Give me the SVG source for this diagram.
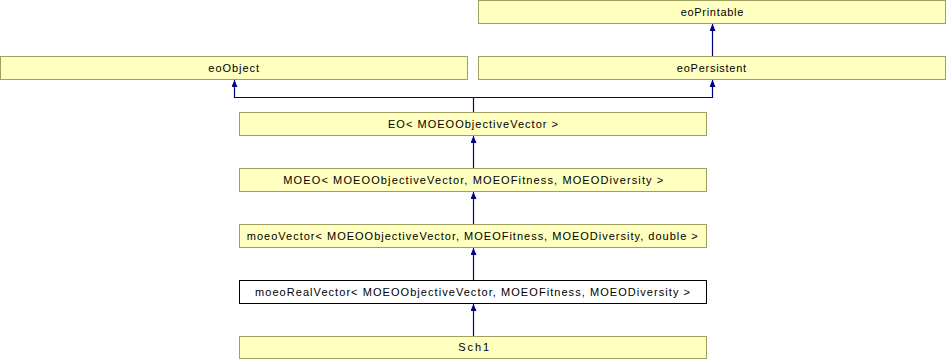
<svg xmlns="http://www.w3.org/2000/svg" width="946" height="360" viewBox="0 0 946 360">
<style>
.box{fill:#ffffc0;stroke:#a0a060;stroke-width:1}
.wbox{fill:#ffffff;stroke:#000000;stroke-width:1}
.lbl{font-family:"Liberation Sans",Arial,sans-serif;font-size:11px;fill:#000000;text-anchor:middle}
.edge{fill:none;stroke:#000080;stroke-width:1.2}
</style>
<defs>
<marker id="ah" markerUnits="userSpaceOnUse" viewBox="0 0 7 6" refX="7" refY="3" markerWidth="7" markerHeight="6" orient="auto">
<path d="M0,0 L7,3 L0,6 z" fill="#000080"/>
</marker>
</defs>
<rect width="946" height="360" fill="#ffffff"/>
<g id="connectors">
<path class="edge" d="M712.5,56.5 L712.5,24" marker-end="url(#ah)"/>
<path class="edge" d="M473.5,112.5 L473.5,97.5"/>
<path class="edge" d="M473.5,97.5 L234.5,97.5 L234.5,80" marker-end="url(#ah)"/>
<path class="edge" d="M473.5,97.5 L712.5,97.5 L712.5,80" marker-end="url(#ah)"/>
<path class="edge" d="M473.5,168.5 L473.5,136" marker-end="url(#ah)"/>
<path class="edge" d="M473.5,224.5 L473.5,192" marker-end="url(#ah)"/>
<path class="edge" d="M473.5,280.5 L473.5,248" marker-end="url(#ah)"/>
<path class="edge" d="M473.5,336.5 L473.5,304" marker-end="url(#ah)"/>
</g>
<g id="eoPrintable">
<rect class="box" x="478.5" y="0.5" width="467" height="23"/>
<text class="lbl" x="712" y="15.5" textLength="62.6" lengthAdjust="spacing">eoPrintable</text>
</g>
<g id="eoObject">
<rect class="box" x="0.5" y="56.5" width="467" height="23"/>
<text class="lbl" x="233.7" y="71.5" textLength="50.7" lengthAdjust="spacing">eoObject</text>
</g>
<g id="eoPersistent">
<rect class="box" x="478.5" y="56.5" width="467" height="23"/>
<text class="lbl" x="711.5" y="71.5" textLength="69.3" lengthAdjust="spacing">eoPersistent</text>
</g>
<g id="EO">
<rect class="box" x="239.5" y="112.5" width="467" height="23"/>
<text class="lbl" x="473" y="127.5" textLength="170" lengthAdjust="spacing">EO&lt; MOEOObjectiveVector &gt;</text>
</g>
<g id="MOEO">
<rect class="box" x="239.5" y="168.5" width="467" height="23"/>
<text class="lbl" x="473.3" y="183.5" textLength="380" lengthAdjust="spacing">MOEO&lt; MOEOObjectiveVector, MOEOFitness, MOEODiversity &gt;</text>
</g>
<g id="moeoVector">
<rect class="box" x="239.5" y="224.5" width="467" height="23"/>
<text class="lbl" x="472.3" y="239.5" textLength="451" lengthAdjust="spacing">moeoVector&lt; MOEOObjectiveVector, MOEOFitness, MOEODiversity, double &gt;</text>
</g>
<g id="moeoRealVector">
<rect class="wbox" x="239.5" y="280.5" width="467" height="23"/>
<text class="lbl" x="472.5" y="295.5" textLength="435" lengthAdjust="spacing">moeoRealVector&lt; MOEOObjectiveVector, MOEOFitness, MOEODiversity &gt;</text>
</g>
<g id="Sch1">
<rect class="box" x="239.5" y="336.5" width="467" height="22"/>
<text class="lbl" x="473.7" y="351" textLength="30.7" lengthAdjust="spacing">Sch1</text>
</g>
</svg>
